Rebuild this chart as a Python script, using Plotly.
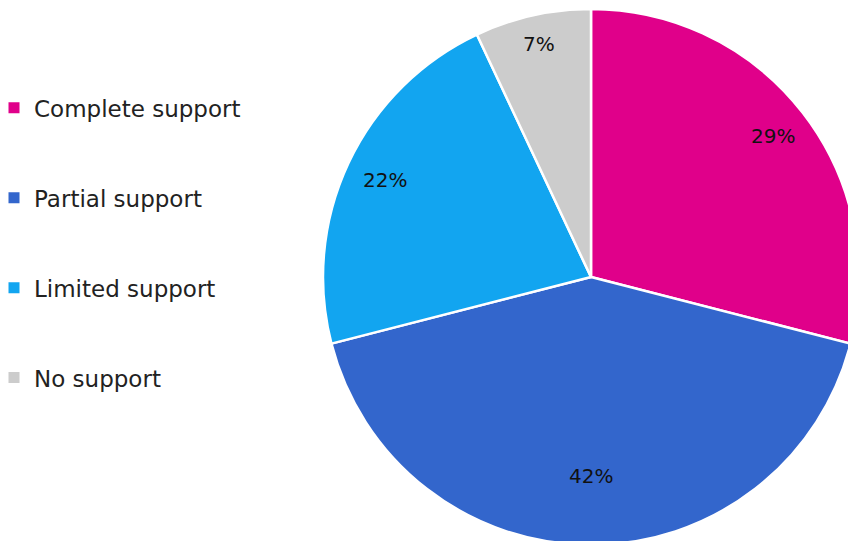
import math
import plotly.graph_objects as go

categories = ["Complete support", "Partial support", "Limited support", "No support"]
values = [29, 42, 22, 7]
colors = ["#E0008A", "#3366CC", "#12A5F0", "#CCCCCC"]

# radial placement (fraction of radius) of each slice's percentage label
label_r = [0.86, 0.743, 0.85, 0.892]

FONT = "DejaVu Sans"

fig = go.Figure()
fig.add_trace(go.Pie(
    labels=categories, values=values, sort=False, direction="clockwise", rotation=0,
    marker=dict(colors=colors, line=dict(color="white", width=2.5)),
    textinfo="none", showlegend=False, hoverinfo="label+percent",
    domain=dict(x=[0, 1], y=[0, 1]),
))
for i, (c, col) in enumerate(zip(categories, colors)):
    fig.add_trace(go.Scatter(
        x=[None], y=[None], mode="markers", name=c,
        marker=dict(symbol="square", size=11, color=col),
        legendgroup=f"g{i}", showlegend=True,
    ))

total = sum(values)
cum = 0
annotations = []
for v, fr in zip(values, label_r):
    mid = (cum + v / 2) / total * 2 * math.pi
    cum += v
    annotations.append(dict(
        x=0.5 + 0.5 * fr * math.sin(mid), y=0.5 + 0.5 * fr * math.cos(mid),
        xref="paper", yref="paper", xanchor="center", yanchor="middle",
        text=f"{round(v / total * 100)}%", showarrow=False,
        font=dict(family=FONT, size=20, color="#111111"),
    ))

fig.update_layout(
    width=859, height=545,
    margin=dict(l=323, r=0, t=9, b=0),
    paper_bgcolor="white", plot_bgcolor="white",
    xaxis=dict(visible=False), yaxis=dict(visible=False),
    legend=dict(
        x=0, xref="container", xanchor="left", y=0.5636, yanchor="middle",
        font=dict(family=FONT, size=23, color="#222222"),
        tracegroupgap=57, itemwidth=30, indentation=-6,
    ),
    annotations=annotations,
    font=dict(family=FONT),
)

fig.write_html("out.html", post_script="document.documentElement.style.overflow='hidden';document.body.style.overflow='hidden';document.body.style.margin='0';")
